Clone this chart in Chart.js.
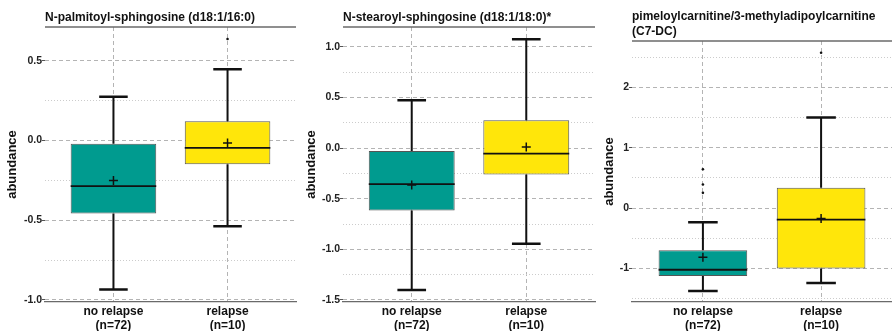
<!DOCTYPE html>
<html>
<head>
<meta charset="utf-8">
<script src="https://cdn.jsdelivr.net/npm/chart.js@4/dist/chart.umd.min.js"></script>
<style>
  html, body { margin: 0; padding: 0; width: 892px; height: 331px; overflow: hidden; background: #fff; }
  canvas { position: absolute; top: 0; }
</style>
</head>
<body>
<canvas id="c1" width="302" height="331" style="left:0px"></canvas>
<canvas id="c2" width="299" height="331" style="left:302px"></canvas>
<canvas id="c3" width="297" height="331" style="left:601px"></canvas>
<script>
// ---------- shared data ----------
const CATEGORIES = ['no relapse', 'relapse'];
const COUNTS = ['(n=72)', '(n=10)'];
const BOX_COLORS = ['#009b8f', '#ffe60a'];

// ---------- panel 1 ----------
const P1_TITLE = ['N-palmitoyl-sphingosine (d18:1/16:0)'];
const P1_Q1 = [-0.458, -0.149];
const P1_Q3 = [-0.019, 0.121];
const P1_MEDIAN = [-0.286, -0.046];
const P1_MEAN = [-0.25, -0.015];
const P1_LOW = [-0.935, -0.538];
const P1_HIGH = [0.275, 0.448];
const P1_OUTLIERS = [[], [0.638]];
const P1_MAJOR = [-1, -0.5, 0, 0.5];
const P1_MINOR = [-0.75, -0.25, 0.25];
const P1_RANGE = [-1.013, 0.713];

// ---------- panel 2 ----------
const P2_TITLE = ['N-stearoyl-sphingosine (d18:1/18:0)*'];
const P2_Q1 = [-0.616, -0.26];
const P2_Q3 = [-0.029, 0.275];
const P2_MEDIAN = [-0.356, -0.055];
const P2_MEAN = [-0.364, 0.01];
const P2_LOW = [-1.401, -0.946];
const P2_HIGH = [0.472, 1.073];
const P2_OUTLIERS = [[], []];
const P2_MAJOR = [-1.5, -1, -0.5, 0, 0.5, 1];
const P2_MINOR = [-1.25, -0.75, -0.25, 0.25, 0.75];
const P2_RANGE = [-1.52, 1.195];

// ---------- panel 3 ----------
const P3_TITLE = ['pimeloylcarnitine/3-methyladipoylcarnitine', '(C7-DC)'];
const P3_Q1 = [-1.122, -1.0];
const P3_Q3 = [-0.698, 0.337];
const P3_MEDIAN = [-1.019, -0.188];
const P3_MEAN = [-0.812, -0.17];
const P3_LOW = [-1.37, -1.238];
const P3_HIGH = [-0.232, 1.503];
const P3_OUTLIERS = [[0.644, 0.392, 0.254], [2.574]];
const P3_MAJOR = [-1, 0, 1, 2];
const P3_MINOR = [-1.5, -0.5, 0.5, 1.5, 2.5];
const P3_RANGE = [-1.553, 2.768];

Chart.defaults.font.family = '"Liberation Sans", Arial, sans-serif';
Chart.defaults.animation = false;

const boxPlugin = {
  id: 'boxParts',
  afterDatasetDraw(chart, args, opts) {
    if (args.index !== 0) return;
    const ctx = chart.ctx;
    const xs = chart.scales.x, ys = chart.scales.y;
    const meta = chart.getDatasetMeta(0);
    ctx.save();
    ctx.strokeStyle = '#111';
    opts.q1.forEach((q1, i) => {
      const cx = xs.getPixelForValue(i + 1);
      const capL = xs.getPixelForValue(i + 1 - 0.125);
      const capR = xs.getPixelForValue(i + 1 + 0.125);
      const yLow = ys.getPixelForValue(opts.low[i]);
      const yHigh = ys.getPixelForValue(opts.high[i]);
      const yQ1 = ys.getPixelForValue(q1);
      const yQ3 = ys.getPixelForValue(opts.q3[i]);
      ctx.lineWidth = 2;
      ctx.beginPath();
      ctx.moveTo(cx, yQ1); ctx.lineTo(cx, yLow);
      ctx.moveTo(cx, yQ3); ctx.lineTo(cx, yHigh);
      ctx.stroke();
      ctx.lineWidth = 2.5;
      ctx.beginPath();
      ctx.moveTo(capL, yLow); ctx.lineTo(capR, yLow);
      ctx.moveTo(capL, yHigh); ctx.lineTo(capR, yHigh);
      ctx.stroke();
      const bar = meta.data[i];
      const yMed = ys.getPixelForValue(opts.median[i]);
      ctx.lineWidth = 1.8;
      ctx.beginPath();
      ctx.moveTo(bar.x - bar.width / 2, yMed);
      ctx.lineTo(bar.x + bar.width / 2, yMed);
      ctx.stroke();
    });
    ctx.restore();
  },
  afterDraw(chart, args, opts) {
    const ctx = chart.ctx;
    const area = chart.chartArea;
    ctx.save();
    ctx.strokeStyle = '#6a6a6a';
    ctx.lineWidth = 1.3;
    ctx.beginPath();
    ctx.moveTo(area.left, area.top);
    ctx.lineTo(area.right, area.top);
    ctx.stroke();
    ctx.fillStyle = '#111';
    ctx.font = 'bold 12px "Liberation Sans", Arial, sans-serif';
    ctx.textBaseline = 'middle';
    ctx.textAlign = 'left';
    const n = opts.title.length;
    opts.title.forEach((t, k) => {
      ctx.fillText(t, area.left, area.top - 9 - (n - 1 - k) * 15);
    });
    ctx.restore();
  }
};

function makePanel(id, p) {
  const boxData = p.q1.map((q, i) => ({ x: i + 1, y: [q, p.q3[i]] }));
  const meanData = p.mean.map((m, i) => ({ x: i + 1, y: m }));
  const outData = [];
  p.outliers.forEach((arr, i) => arr.forEach(v => outData.push({ x: i + 1, y: v })));
  const ticks = p.major.concat(p.minor).sort((a, b) => a - b);
  const isMajor = v => p.major.some(m => Math.abs(m - v) < 1e-9);
  new Chart(document.getElementById(id), {
    type: 'bar',
    data: {
      datasets: [
        {
          type: 'bar', data: boxData, order: 3,
          backgroundColor: BOX_COLORS, borderColor: '#555', borderWidth: 1,
          borderSkipped: false, barPercentage: 0.75, categoryPercentage: 1
        },
        {
          type: 'scatter', data: meanData, order: 1,
          pointStyle: 'cross', pointRadius: 4.5, borderColor: '#111',
          borderWidth: 1.5, backgroundColor: '#111'
        },
        {
          type: 'scatter', data: outData, order: 2,
          pointStyle: 'circle', pointRadius: 1.3, borderWidth: 0,
          backgroundColor: '#111', borderColor: '#111'
        }
      ]
    },
    options: {
      responsive: false,
      animation: false,
      events: [],
      layout: { padding: { top: p.top, bottom: 0, left: 0, right: 0 } },
      plugins: {
        legend: { display: false },
        tooltip: { enabled: false },
        boxParts: {
          q1: p.q1, q3: p.q3, median: p.median, low: p.low, high: p.high, title: p.title
        }
      },
      scales: {
        x: {
          type: 'linear', min: 0.4, max: 2.6, offset: false,
          afterBuildTicks: s => { s.ticks = [{ value: 1 }, { value: 2 }]; },
          afterFit: s => { s.height = 29; },
          ticks: {
            autoSkip: false, maxRotation: 0, padding: 2, color: '#111',
            font: { size: 12, weight: 'bold' },
            callback: v => [CATEGORIES[Math.round(v) - 1], COUNTS[Math.round(v) - 1]]
          },
          grid: { offset: false, drawTicks: false, color: '#b4b4b4', lineWidth: 1 },
          border: { display: true, color: '#6a6a6a', width: 1.3, dash: [4, 3] }
        },
        y: {
          type: 'linear', min: p.range[0], max: p.range[1], beginAtZero: false,
          afterBuildTicks: s => { s.ticks = ticks.map(v => ({ value: v })); },
          afterFit: s => { s.width = p.yw; },
          title: {
            display: true, text: 'abundance', color: '#111',
            font: { size: 13, weight: 'bold' }, padding: { top: p.tpad, bottom: 0 }
          },
          ticks: {
            autoSkip: false, padding: 0, color: '#222',
            font: { size: 10.5, weight: 'bold' },
            callback: v => isMajor(v) ? p.fmt(v) : ''
          },
          grid: {
            drawTicks: true, tickLength: 3, lineWidth: 1,
            color: c => (c.tick && isMajor(c.tick.value)) ? '#b4b4b4' : '#cccccc',
            tickColor: c => (c.tick && isMajor(c.tick.value)) ? '#555' : 'rgba(0,0,0,0)'
          },
          border: {
            display: false,
            dash: c => (c.tick && isMajor(c.tick.value)) ? [4, 3] : [1, 2]
          }
        }
      }
    },
    plugins: [boxPlugin]
  });
}

makePanel('c1', {
  title: P1_TITLE, q1: P1_Q1, q3: P1_Q3, median: P1_MEDIAN, mean: P1_MEAN,
  low: P1_LOW, high: P1_HIGH, outliers: P1_OUTLIERS, major: P1_MAJOR, minor: P1_MINOR,
  range: P1_RANGE, top: 27, yw: 45, tpad: 5, fmt: v => v.toFixed(1)
});
makePanel('c2', {
  title: P2_TITLE, q1: P2_Q1, q3: P2_Q3, median: P2_MEDIAN, mean: P2_MEAN,
  low: P2_LOW, high: P2_HIGH, outliers: P2_OUTLIERS, major: P2_MAJOR, minor: P2_MINOR,
  range: P2_RANGE, top: 27, yw: 41, tpad: 2, fmt: v => v.toFixed(1)
});
makePanel('c3', {
  title: P3_TITLE, q1: P3_Q1, q3: P3_Q3, median: P3_MEDIAN, mean: P3_MEAN,
  low: P3_LOW, high: P3_HIGH, outliers: P3_OUTLIERS, major: P3_MAJOR, minor: P3_MINOR,
  range: P3_RANGE, top: 41, yw: 31, tpad: 1, fmt: v => v.toFixed(0)
});
</script>
</body>
</html>
